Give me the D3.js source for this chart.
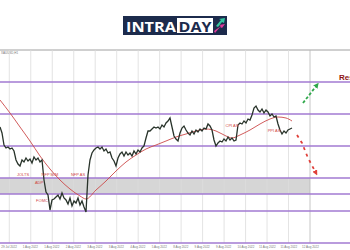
<!DOCTYPE html>
<html lang="en">
  <head>
    <meta charset="UTF-8" />
    <title>Gold intraday</title>
    <script src="https://d3js.org/d3.v7.min.js"></script>
    <style>
      body { margin: 0; background: #fff; }
      svg { display: block; font-family: "Liberation Sans", Arial, sans-serif; }
    </style>
  </head>
  <body>
    <div id="chart"></div>
    <script>
      // closing price of each bar (bar 0 .. n)
      const closes = [
        1786.5, 1783.5, 1777.5, 1776, 1776.5, 1775.5, 1776, 1774.5, 1770, 1768,
        1767, 1770, 1769, 1771, 1769.5, 1770.5, 1768.5, 1771.5, 1770, 1771,
        1769, 1770, 1760, 1754, 1752.5, 1745, 1750, 1750.5, 1751.5, 1752.5,
        1750.5, 1753.5, 1751, 1750, 1748, 1751, 1747, 1749.5, 1748.5, 1751,
        1747.5, 1749.5, 1746.5, 1744, 1762.5, 1770, 1773.5, 1775, 1776, 1776.5,
        1775.5, 1776.5, 1774.5, 1775.5, 1773.5, 1774, 1771, 1769.5, 1767, 1771,
        1773, 1774, 1772, 1774, 1772.5, 1773.5, 1772, 1774.5, 1773, 1775,
        1774, 1776, 1777, 1781, 1784.5, 1784.5, 1785.5, 1786.5, 1786, 1786.5,
        1785.5, 1787.5, 1786.5, 1788.5, 1789.5, 1791, 1786.5, 1782, 1780.5, 1779.5,
        1783.5, 1786, 1787, 1785, 1783.5, 1782.5, 1784.5, 1783, 1785, 1784,
        1785.5, 1784.5, 1786, 1785.5, 1788, 1787, 1785, 1780, 1777, 1778.5,
        1779.5, 1779, 1780.5, 1779.5, 1781.5, 1780, 1781, 1779.5, 1780, 1787.5,
        1788.5, 1788, 1789.5, 1788.5, 1790.5, 1790, 1792.5, 1796, 1797, 1795,
        1794, 1795.5, 1793.5, 1795, 1794, 1792, 1793, 1791.5, 1792, 1788,
        1785, 1783, 1784.5, 1783.5, 1785, 1785.5, 1786
      ];

      // moving average
      const maBars = [0, 5, 10, 15, 20, 25, 30, 35, 40, 43, 48, 53, 58, 63, 68, 73,
        78, 83, 88, 93, 98, 103, 108, 113, 116, 120, 125, 130, 135, 139, 143, 146];
      const maValues = [1800, 1793.5, 1786.5, 1779.5, 1772, 1765.5, 1760, 1755.5, 1752,
        1750.5, 1755, 1759.5, 1764.5, 1769, 1772.5, 1775.5, 1777.5, 1779.5, 1781.5,
        1783, 1784.5, 1785.5, 1784.5, 1782, 1781, 1782.5, 1785, 1788, 1790.5,
        1791.5, 1791, 1789.5];

      // horizontal levels and the grey zone
      const levels = [1809, 1793, 1777, 1761, 1753, 1744.5, 1728.5];
      const zone = [1761, 1753];

      const tickLabels = ["29 Jul 2022", "1 Aug 2022", "1 Aug 2022", "2 Aug 2022",
        "3 Aug 2022", "3 Aug 2022", "4 Aug 2022", "5 Aug 2022", "8 Aug 2022",
        "9 Aug 2022", "9 Aug 2022", "10 Aug 2022", "11 Aug 2022", "11 Aug 2022",
        "12 Aug 2022"];

      const events = ["JOLTS", "ADP", "NFP M/M", "FOMC", "NFP AS", "CPI AS", "PPI AS"];
      const eventBars = [11.5, 19.5, 25, 21, 39, 116, 137];
      const eventPrices = [1763, 1759, 1763, 1750, 1763, 1787.5, 1785];

      const upArrow = { bars: [151.5, 158.5], prices: [1798.5, 1807.5] };
      const downArrow = { bars: [148.5, 151, 154, 158], prices: [1782.5, 1778.5, 1771, 1763.5] };

      const width = 350;
      const height = 250;
      const plotTop = 50;
      const plotBottom = 243;
      const gridEnd = 310;

      const svg = d3.select("#chart").append("svg")
        .attr("width", width).attr("height", height);

      const x = d3.scaleLinear().domain([0, 146]).range([0, 292]);
      const y = d3.scaleLinear().domain([1825, 1725]).range([50, 250]);
      const period = d3.scaleLinear().domain([0, 14]).range([9.3, 310]);

      // logo
      const logo = svg.append("g");
      logo.append("rect").attr("x", 123).attr("y", 16).attr("width", 104).attr("height", 19)
        .attr("fill", "#1c2b4c");
      logo.append("text").attr("x", 126).attr("y", 31.5).text("INTRA")
        .attr("fill", "#fff").attr("font-family", "'Open Sans', sans-serif")
        .attr("font-weight", 700).attr("font-size", 15)
        .attr("textLength", 50).attr("lengthAdjust", "spacingAndGlyphs");
      logo.append("rect").attr("x", 177).attr("y", 18).attr("width", 36).attr("height", 15)
        .attr("fill", "#fff");
      logo.append("text").attr("x", 178.5).attr("y", 31.5).text("DAY")
        .attr("fill", "#1c2b4c").attr("font-family", "'Open Sans', sans-serif")
        .attr("font-weight", 700).attr("font-size", 15)
        .attr("textLength", 33).attr("lengthAdjust", "spacingAndGlyphs");
      logo.append("polygon").attr("points", "216,26 221,20 219,19 225,18 224,23 222,22 218,27")
        .attr("fill", "#32c6a0");
      logo.append("polygon").attr("points", "215,33 220,27 222,28 225,24 219,25 221,26 214,31")
        .attr("fill", "#e13a9c");

      // frame top
      svg.append("line").attr("x1", 0).attr("x2", width)
        .attr("y1", plotTop).attr("y2", plotTop).attr("stroke", "#a0a0a0");
      svg.append("text").attr("x", 1).attr("y", 53.5).text("XAUUSD,H1")
        .attr("font-size", 3).attr("fill", "#777");

      // grey zone
      svg.append("rect").attr("x", 0).attr("width", gridEnd)
        .attr("y", y(zone[0])).attr("height", y(zone[1]) - y(zone[0]))
        .attr("fill", "#d6d6d6");

      // vertical grid
      svg.selectAll("line.grid").data(d3.range(tickLabels.length)).enter()
        .append("line").attr("class", "grid")
        .attr("x1", (d) => period(d)).attr("x2", (d) => period(d))
        .attr("y1", plotTop).attr("y2", plotBottom)
        .attr("stroke", (d, i) => (i === tickLabels.length - 1 ? "#b8b8b8" : "#dcdcdc"))
        .attr("stroke-width", 0.8);

      svg.selectAll("text.tick").data(tickLabels).enter()
        .append("text").attr("class", "tick")
        .attr("x", (d, i) => period(i) - 8).attr("y", 247.5)
        .attr("font-size", 3).attr("fill", "#777").text((d) => d);

      // levels
      svg.selectAll("line.level").data(levels).enter()
        .append("line").attr("class", "level")
        .attr("x1", 0).attr("x2", width)
        .attr("y1", (d) => y(d)).attr("y2", (d) => y(d))
        .attr("stroke", "#a27ad2").attr("stroke-width", 1.3);

      // moving average
      const maLine = d3.line()
        .x((d, i) => x(maBars[i])).y((d) => y(d))
        .curve(d3.curveMonotoneX);
      svg.append("path").datum(maValues).attr("d", maLine)
        .attr("fill", "none").attr("stroke", "#cc4a4a").attr("stroke-width", 0.9);

      // price
      const priceLine = d3.line().x((d, i) => x(i)).y((d) => y(d));
      svg.append("path").datum(closes).attr("d", priceLine)
        .attr("fill", "none").attr("stroke", "#28332a").attr("stroke-width", 1.3);

      // event labels
      svg.selectAll("text.event").data(events).enter()
        .append("text").attr("class", "event")
        .attr("x", (d, i) => x(eventBars[i])).attr("y", (d, i) => y(eventPrices[i]) + 1.5)
        .attr("text-anchor", "middle").attr("font-size", 4)
        .attr("fill", "#d0443f").text((d) => d);

      // arrows
      const defs = svg.append("defs");
      [["up", "#2ea84a"], ["down", "#e0403a"]].forEach(([id, c]) => {
        defs.append("marker").attr("id", "head-" + id)
          .attr("viewBox", "0 0 10 10").attr("refX", 5).attr("refY", 5)
          .attr("markerWidth", 3).attr("markerHeight", 3).attr("orient", "auto")
          .append("path").attr("d", "M0,0 L10,5 L0,10 z").attr("fill", c);
      });
      const arrowLine = d3.line().x((d) => x(d[0])).y((d) => y(d[1]));
      svg.append("path")
        .datum(upArrow.bars.map((b, i) => [b, upArrow.prices[i]]))
        .attr("d", arrowLine).attr("fill", "none").attr("stroke", "#2ea84a")
        .attr("stroke-width", 1.8).attr("stroke-dasharray", "3,2")
        .attr("marker-end", "url(#head-up)");
      svg.append("path")
        .datum(downArrow.bars.map((b, i) => [b, downArrow.prices[i]]))
        .attr("d", arrowLine).attr("fill", "none").attr("stroke", "#e0403a")
        .attr("stroke-width", 1.8).attr("stroke-dasharray", "3,4")
        .attr("marker-end", "url(#head-down)");

      // cut by the right edge, as in the source picture
      svg.append("text").attr("x", 339).attr("y", 80).text("Resistance")
        .attr("font-size", 8).attr("font-weight", 700).attr("fill", "#8e1414");
    </script>
  </body>
</html>
